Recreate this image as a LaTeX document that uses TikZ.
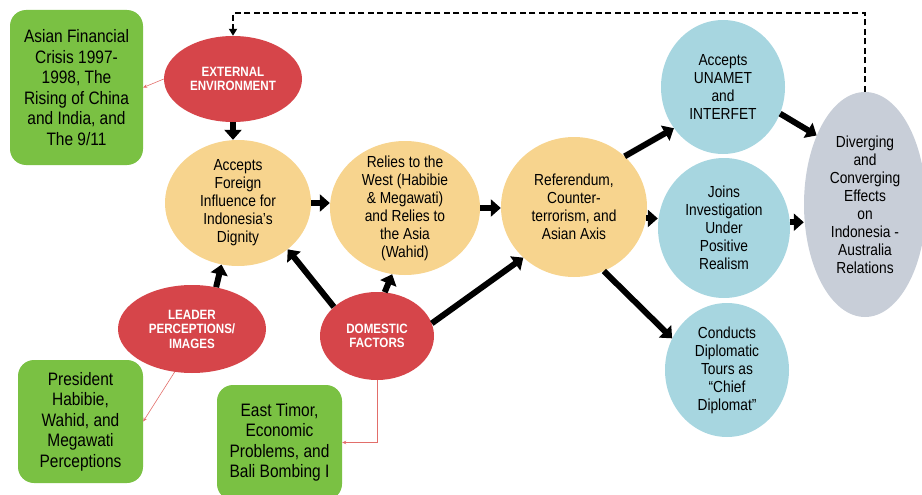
\documentclass[tikz,border=0pt]{standalone}
\usepackage{fontspec}
\setmainfont{Liberation Sans}[FakeStretch=0.86]
\usetikzlibrary{shapes.geometric,arrows.meta}

\definecolor{boxgreen}{RGB}{122,193,67}
\definecolor{factorred}{RGB}{214,69,74}
\definecolor{stagetan}{RGB}{247,212,142}
\definecolor{stageblue}{RGB}{167,214,224}
\definecolor{effectgray}{RGB}{200,206,216}
\definecolor{linkred}{RGB}{226,110,106}

\begin{document}
\begin{tikzpicture}[x=1pt,y=-1pt,
  greenbox/.style={rectangle, rounded corners=16pt, fill=boxgreen, inner sep=0pt,
    align=center, font=\fontsize{18}{20.5}\selectfont},
  factor/.style={ellipse, fill=factorred, text=white, inner sep=0pt, align=center,
    font=\bfseries\fontsize{13.5}{14.5}\selectfont},
  stage/.style={ellipse, inner sep=-6pt, align=center,
    font=\fontsize{16}{18}\selectfont},
  flow/.style={line width=6pt, -{Triangle[length=10pt,width=17pt]}},
  link/.style={draw=linkred, line width=0.6pt, -{Stealth[length=4pt,width=3.5pt]}},
  feedback/.style={line width=2.5pt, dash pattern=on 6pt off 3.5pt,
    -{Triangle[length=7pt,width=8pt]}}]
\useasboundingbox (0,0) rectangle (922,495);

% influencing factors and their sources
\node[greenbox, minimum width=133, minimum height=155] (crisis) at (76.5,87.5)
  {Asian Financial\\Crisis 1997-\\1998, The\\Rising of China\\and India, and\\The 9/11};
\node[factor, minimum width=138, minimum height=86] (ext) at (233,79)
  {EXTERNAL\\ENVIRONMENT};
\node[factor, minimum width=148, minimum height=88] (leader) at (192,329)
  {LEADER\\PERCEPTIONS/\\IMAGES};
\node[factor, minimum width=114, minimum height=88] (domestic) at (377,336)
  {DOMESTIC\\FACTORS};
\node[greenbox, minimum width=125, minimum height=123] (leaders) at (80.5,421.5)
  {President\\Habibie,\\Wahid, and\\Megawati\\Perceptions};
\node[greenbox, minimum width=125, minimum height=115] (events) at (279.5,442.5)
  {East Timor,\\Economic\\Problems, and\\Bali Bombing I};

% policy stages
\node[stage, fill=stagetan, minimum width=146, minimum height=126] (accf) at (238,203)
  {Accepts\\Foreign\\Influence for\\Indonesia’s\\Dignity};
\node[stage, fill=stagetan, minimum width=150, minimum height=134] (west) at (405,208)
  {Relies to the\\West (Habibie\\\& Megawati)\\and Relies to\\the Asia\\(Wahid)};
\node[stage, fill=stagetan, minimum width=146, minimum height=140] (refer) at (574,207)
  {Referendum,\\Counter-\\terrorism, and\\Asian Axis};

% outcomes
\node[stage, fill=stageblue, minimum width=124, minimum height=134] (unamet) at (723,87)
  {Accepts\\UNAMET\\and\\INTERFET};
\node[stage, fill=stageblue, minimum width=132, minimum height=140] (joins) at (724,228)
  {Joins\\Investigation\\Under\\Positive\\Realism};
\node[stage, fill=stageblue, minimum width=124, minimum height=134] (tours) at (727,370)
  {Conducts\\Diplomatic\\Tours as\\“Chief\\Diplomat”};
\node[stage, fill=effectgray, minimum width=122, minimum height=225] (effects) at (865,204.5)
  {Diverging\\and\\Converging\\Effects\\on\\Indonesia -\\Australia\\Relations};

% main flow
\draw[flow] (ext.south) -- (ext.south |- accf.north);
\draw[flow] (accf.east) -- (accf.east -| west.west);
\draw[flow] (west.east) -- (west.east -| refer.west);
\draw[flow] (refer.45) -- (unamet.220);
\draw[flow] (refer.-9) -- (refer.-9 -| joins.west);
\draw[flow] (refer.-65) -- (tours.150);
\draw[flow] (unamet.-25) -- (effects.125);
\draw[flow] (joins.5) -- (joins.5 -| effects.west);
\draw[flow] (leader.60) -- (accf.-105);
\draw[flow] (domestic.146) -- (accf.-43);
\draw[flow] (domestic.80) -- (west.-101);
\draw[flow] (domestic.13) -- (refer.-135);

% factor sources
\draw[link] (ext.west) -- (crisis.east);
\draw[link] (leader.-112) -- (leaders.east);
\draw[link] (domestic.south) |- (events.east);

% feedback loop
\coordinate (top) at (0,13);
\draw[feedback] (effects.north) -- (effects.north |- top) -| (ext.north);
\end{tikzpicture}
\end{document}
